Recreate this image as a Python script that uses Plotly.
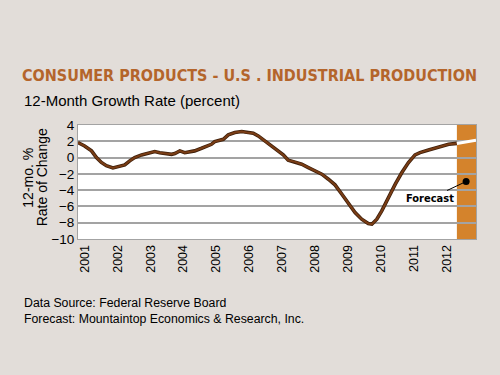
import plotly.graph_objects as go

# ---- data (decimal years, 12-month % change) ----
years = [2001.00, 2001.20, 2001.41, 2001.56, 2001.71, 2001.86, 2002.06, 2002.27, 2002.42, 2002.57,
         2002.72, 2002.93, 2003.13, 2003.33, 2003.48, 2003.64, 2003.84, 2003.94, 2004.09, 2004.24,
         2004.39, 2004.54, 2004.75, 2004.95, 2005.05, 2005.15, 2005.26, 2005.41, 2005.56, 2005.76,
         2005.97, 2006.12, 2006.32, 2006.47, 2006.67, 2006.88, 2007.08, 2007.23, 2007.38, 2007.59,
         2007.79, 2007.99, 2008.19, 2008.40, 2008.60, 2008.80, 2009.01, 2009.21, 2009.41, 2009.61,
         2009.81, 2009.92, 2010.07, 2010.22, 2010.42, 2010.63, 2010.83, 2011.03, 2011.23, 2011.38,
         2011.64, 2011.94, 2012.25, 2012.50]
growth = [1.84, 1.43, 0.82, 0.0, -0.6, -1.0, -1.28, -1.1, -0.9, -0.4,
          0.0, 0.33, 0.5, 0.74, 0.6, 0.53, 0.4, 0.5, 0.82, 0.6,
          0.74, 0.82, 1.14, 1.43, 1.63, 1.96, 2.1, 2.25, 2.78, 3.07,
          3.2, 3.07, 3.0, 2.66, 2.05, 1.43, 0.82, 0.33, -0.33, -0.53,
          -0.82, -1.23, -1.64, -2.04, -2.66, -3.35, -4.5, -5.7, -6.75, -7.57,
          -8.1, -8.18, -7.57, -6.55, -4.9, -3.27, -1.84, -0.61, 0.33, 0.61,
          0.94, 1.31, 1.63, 1.74]

forecast_years = [2012.50, 2013.08]
forecast_growth = [1.74, 2.12]
forecast_start = 2012.50
axis_end = 2013.08

tick_years = list(range(2001, 2013))
tick_pos = [y + 0.2 for y in tick_years]
tick_text = [str(y) for y in tick_years]
y_ticks = list(range(-10, 5, 2))

dot_x, dot_y = 2012.78, -2.94

BG = "#e2ddd9"
GRID = "#a3a3a3"
COND = "DejaVu Sans Condensed, DejaVu Sans, sans-serif"
SANS = "Liberation Sans, Arial, sans-serif"

fig = go.Figure()

fig.add_shape(type="rect", xref="x", yref="paper", x0=forecast_start, x1=axis_end,
              y0=0, y1=1, fillcolor="#d4832c", line_width=0, layer="below")

fig.add_trace(go.Scatter(x=years, y=growth, mode="lines",
                         line=dict(color="#3d1f0b", width=3.6), hoverinfo="skip"))
fig.add_trace(go.Scatter(x=years, y=growth, mode="lines",
                         line=dict(color="#7a3d15", width=2)))
fig.add_trace(go.Scatter(x=forecast_years, y=forecast_growth, mode="lines",
                         line=dict(color="white", width=3)))
fig.add_trace(go.Scatter(x=[dot_x], y=[dot_y], mode="markers",
                         marker=dict(color="black", size=7)))

fig.add_annotation(x=dot_x, y=dot_y, xref="x", yref="y", ax=-36, ay=17,
                   text="<b>Forecast</b>", showarrow=True, arrowhead=0,
                   arrowwidth=1, arrowcolor="black",
                   font=dict(family=COND, size=11, color="black"))

fig.add_annotation(text="<b>CONSUMER PRODUCTS - U.S . INDUSTRIAL PRODUCTION</b>",
                   xref="paper", yref="paper", x=-0.146, y=1.43, xanchor="left", yanchor="middle",
                   showarrow=False,
                   font=dict(family=COND, size=16, color="#b4652b"))
fig.add_annotation(text="12-Month Growth Rate (percent)",
                   xref="paper", yref="paper", x=-0.141, y=1.218, xanchor="left", yanchor="middle",
                   showarrow=False,
                   font=dict(family=SANS, size=15, color="black"))
fig.add_annotation(text="12-mo. %", textangle=-90,
                   xref="paper", yref="paper", x=-0.1265, y=0.535, xanchor="center", yanchor="middle",
                   showarrow=False,
                   font=dict(family=SANS, size=14, color="black"))
fig.add_annotation(text="Rate of Change", textangle=-90,
                   xref="paper", yref="paper", x=-0.0913, y=0.538, xanchor="center", yanchor="middle",
                   showarrow=False,
                   font=dict(family=SANS, size=14, color="black"))
fig.add_annotation(text="Data Source: Federal Reserve Board<br>Forecast: Mountaintop Economics & Research, Inc.",
                   xref="paper", yref="paper", x=-0.141, y=-0.63, xanchor="left", yanchor="middle",
                   align="left", showarrow=False,
                   font=dict(family=SANS, size=12.3, color="black"))

fig.update_layout(
    width=500, height=375,
    margin=dict(l=78, r=24, t=125, b=135.5),
    paper_bgcolor=BG, plot_bgcolor="white",
    showlegend=False,
    xaxis=dict(range=[2001.0, axis_end], tickvals=tick_pos, ticktext=tick_text,
               tickangle=-90, showgrid=False, zeroline=False,
               showline=True, linecolor=GRID, linewidth=1, mirror=True,
               tickfont=dict(family=SANS, size=12.5, color="black")),
    yaxis=dict(range=[-10, 4], tickvals=y_ticks, showgrid=True, gridcolor=GRID, gridwidth=1.5,
               zeroline=False, showline=True, linecolor=GRID, linewidth=1, mirror=True,
               ticks="", ticklabelstandoff=0,
               tickfont=dict(family=SANS, size=13.5, color="black")),
)

fig.write_html("out.html", config={"displayModeBar": False},
               post_script="document.body.style.margin='0';document.body.style.background='%s';" % BG)
